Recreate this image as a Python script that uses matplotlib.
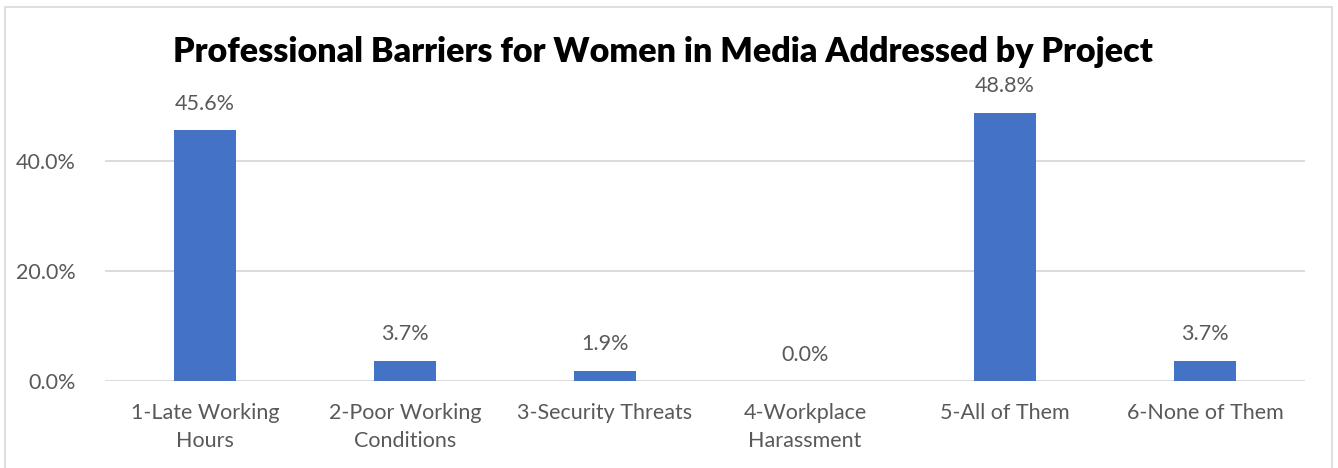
import matplotlib
matplotlib.use("Agg")
import matplotlib.pyplot as plt
from matplotlib.patches import Rectangle
from matplotlib.ticker import FuncFormatter

categories = ["1-Late Working\nHours", "2-Poor Working\nConditions", "3-Security Threats",
              "4-Workplace\nHarassment", "5-All of Them", "6-None of Them"]
values = [45.6, 3.7, 1.9, 0.0, 48.8, 3.7]
yticks = [0, 20, 40]

BAR = "#4472C4"
GRID = "#D9D9D9"
TXT = "#595959"
FONT = ["Lato", "DejaVu Sans"]

W, H = 1338, 468
fig = plt.figure(figsize=(W / 100, H / 100), dpi=100)
fig.patch.set_facecolor("white")

# chart frame
fig.patches.append(Rectangle((5 / W, -0.05), (1332 - 5) / W, 1.05 - 7 / H,
                             transform=fig.transFigure, fill=False,
                             edgecolor=GRID, linewidth=1.2))

left, right, bottom, top = 105 / W, 1305 / W, 1 - 381 / H, 1 - 106 / H
ax = fig.add_axes([left, bottom, right - left, top - bottom])

x = range(len(categories))
ax.bar(x, values, width=0.31, color=BAR, zorder=3)

ax.set_xlim(-0.5, len(categories) - 0.5)
ax.set_ylim(0, 50)
ax.set_yticks(yticks)
ax.yaxis.set_major_formatter(FuncFormatter(lambda v, _: f"{v:.1f}%"))
ax.grid(axis="y", color=GRID, linewidth=1.3, zorder=0)
for s in ax.spines.values():
    s.set_visible(False)
ax.tick_params(length=0)
ax.tick_params(axis="y", pad=21, labelsize=15.5, labelcolor=TXT)
ax.tick_params(axis="x", pad=16, labelsize=15.5, labelcolor=TXT)
ax.set_xticks(list(x))
ax.set_xticklabels(categories, linespacing=1.5)
for lab in ax.get_xticklabels() + ax.get_yticklabels():
    lab.set_fontfamily(FONT)

for xi, v in zip(x, values):
    ax.annotate(f"{v:.1f}%", (xi, v), xytext=(0, 19), textcoords="offset points",
                ha="center", va="center", fontsize=15.5, color=TXT, family=FONT)

fig.text(663 / W, 1 - 52 / H, "Professional Barriers for Women in Media Addressed by Project",
         ha="center", va="center", fontsize=24.5, fontweight="heavy", color="black",
         family=FONT)

fig.savefig("out.png", dpi=100)
